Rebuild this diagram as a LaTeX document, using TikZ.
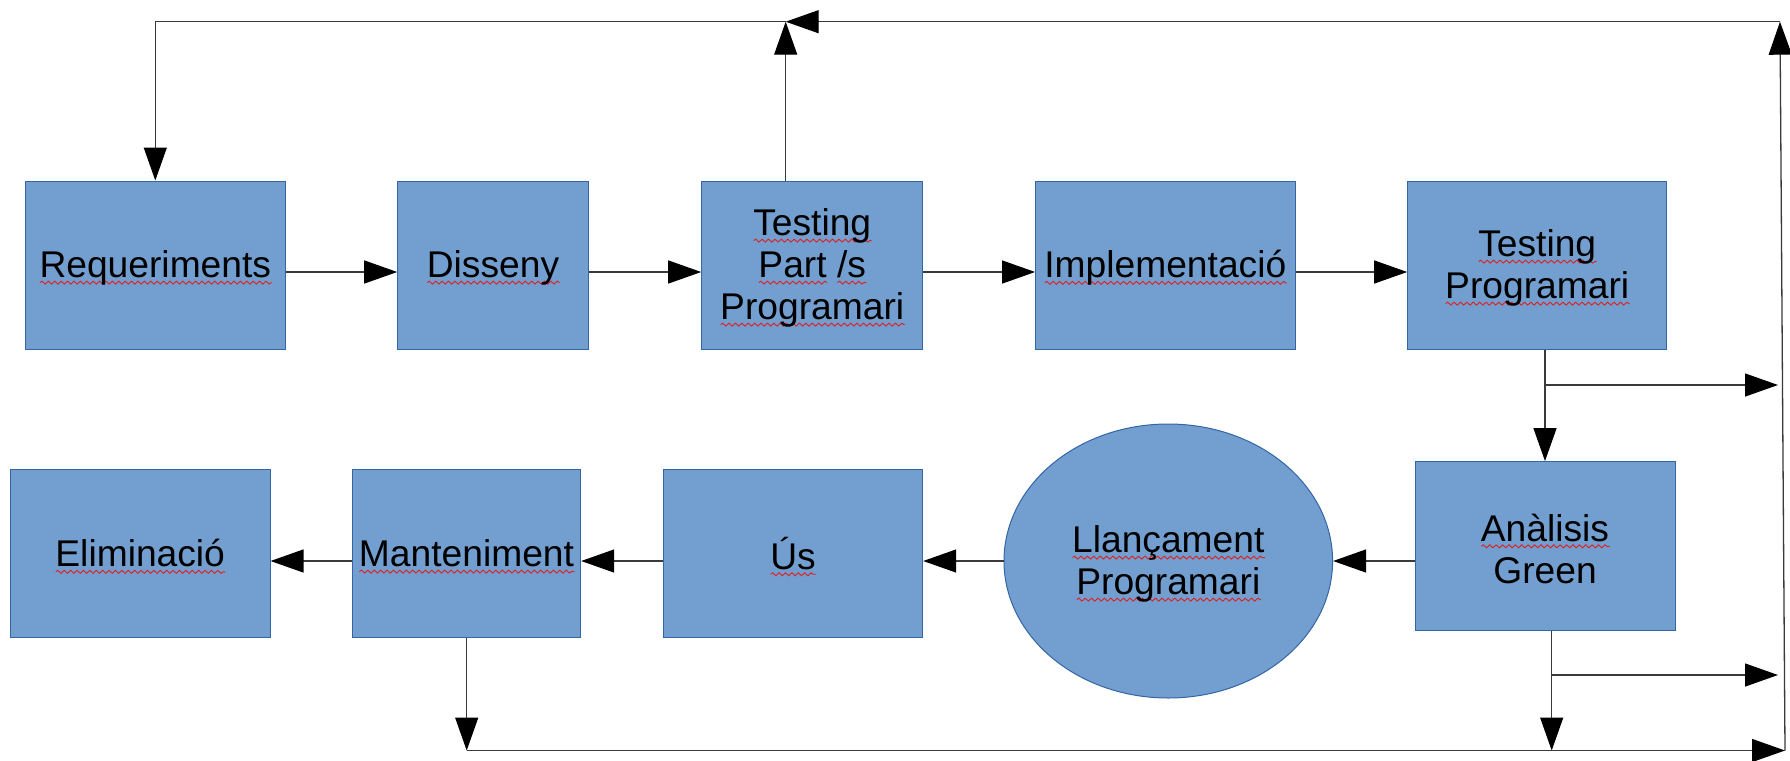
\documentclass[tikz,border=0pt]{standalone}
\usepackage{fontspec}
\setmainfont{Liberation Sans}
\usetikzlibrary{arrows.meta,shapes.geometric,decorations.pathmorphing}
\definecolor{boxfill}{HTML}{729FCF}
\definecolor{boxline}{HTML}{3465A4}
\definecolor{wavered}{HTML}{E02020}
\definecolor{conn}{HTML}{3A3A3A}
\newsavebox{\sqwbox}
\newcommand\lowtx[1]{\raisebox{-1.4pt}[\height][\depth]{#1}}
\newcommand\sqw[1]{\lowtx{\sbox{\sqwbox}{#1}\rlap{\tikz[baseline=0pt,x=1pt,y=1pt]\draw[wavered,line width=0.45pt,decorate,decoration={snake,amplitude=0.75pt,segment length=3.2pt}] (0,-2.6) -- (\the\wd\sqwbox,-2.6);}\usebox{\sqwbox}}}
\begin{document}
\begin{tikzpicture}[x=0.5pt,y=-0.5pt,
  stagebox/.style={draw=boxline,fill=boxfill,line width=0.5pt,rectangle,inner sep=0pt,
    minimum height=84pt,align=center,font=\fontsize{18.6}{21}\selectfont},
  roundstage/.style={draw=boxline,fill=boxfill,line width=0.5pt,ellipse,inner sep=0pt,
    align=center,font=\fontsize{18.6}{21}\selectfont},
  arr/.style={draw=conn,line width=0.65pt,-{Triangle[length=16.5pt,width=11.5pt,color=black]}}]
\useasboundingbox (0,0) rectangle (1790,761);
% nodes
\node[stagebox,minimum width=129.7pt] (req) at (155.3,265) {\sqw{Requeriments}};
\node[stagebox,minimum width=95.3pt] (dis) at (493,265) {\sqw{Disseny}};
\node[stagebox,minimum width=110.5pt] (tpart) at (812.2,265) {\sqw{Testing}\\\sqw{Part} \sqw{/s}\\\sqw{Programari}};
\node[stagebox,minimum width=129.7pt] (impl) at (1165.3,265) {\sqw{Implementació}};
\node[stagebox,minimum width=129.5pt] (tprog) at (1537.2,265) {\sqw{Testing}\\\sqw{Programari}};
\node[stagebox,minimum width=130pt,minimum height=84.2pt] (anal) at (1545,545.8) {\sqw{Anàlisis}\\\lowtx{Green}};
\node[roundstage,minimum width=164.3pt,minimum height=137pt] (llan) at (1168.3,561) {\sqw{Llançament}\\\sqw{Programari}};
\node[stagebox,minimum width=129.7pt] (us) at (793,553.7) {\sqw{Ús}};
\node[stagebox,minimum width=114.2pt] (mant) at (466.5,553.7) {\sqw{Manteniment}};
\node[stagebox,minimum width=129.85pt] (elim) at (140.2,553.7) {\sqw{Eliminació}};
% helper coordinates
\coordinate (row1) at (0,272);
\coordinate (row2) at (0,561);
\coordinate (tl) at (155.3,21.7);
\coordinate (tm) at (785.7,21.7);
\coordinate (tr) at (1780,21.7);
\coordinate (br) at (1785,750.5);
\coordinate (bl) at (466.7,750.5);
\coordinate (j1) at (1545,385);
\coordinate (j1e) at (1778,385);
\coordinate (j2) at (1551.7,675);
\coordinate (j2e) at (1778,675);
\coordinate (bA) at (1551.7,750.5);
% top row
\draw[arr] (req.east |- row1) -- (dis.west |- row1);
\draw[arr] (dis.east |- row1) -- (tpart.west |- row1);
\draw[arr] (tpart.east |- row1) -- (impl.west |- row1);
\draw[arr] (impl.east |- row1) -- (tprog.west |- row1);
% feedback loop on top
\draw[arr] (tm |- tpart.north) -- (tm);
\draw[arr] (tr) -- (tm);
\draw[arr] (tm) -- (tl) -- (req.north);
\draw[arr] (br) -- (tr);
% right side
\draw[arr] (j1 |- tprog.south) -- (j1 |- anal.north);
\draw[arr] (j1) -- (j1e);
\draw[arr] (j2 |- anal.south) -- (bA);
\draw[arr] (j2) -- (j2e);
% bottom row
\draw[arr] (anal.west |- row2) -- (llan.east);
\draw[arr] (llan.west) -- (us.east |- row2);
\draw[arr] (us.west |- row2) -- (mant.east |- row2);
\draw[arr] (mant.west |- row2) -- (elim.east |- row2);
\draw[arr] (bl |- mant.south) -- (bl);
\draw[arr] (bl) -- (br);
\end{tikzpicture}
\end{document}
